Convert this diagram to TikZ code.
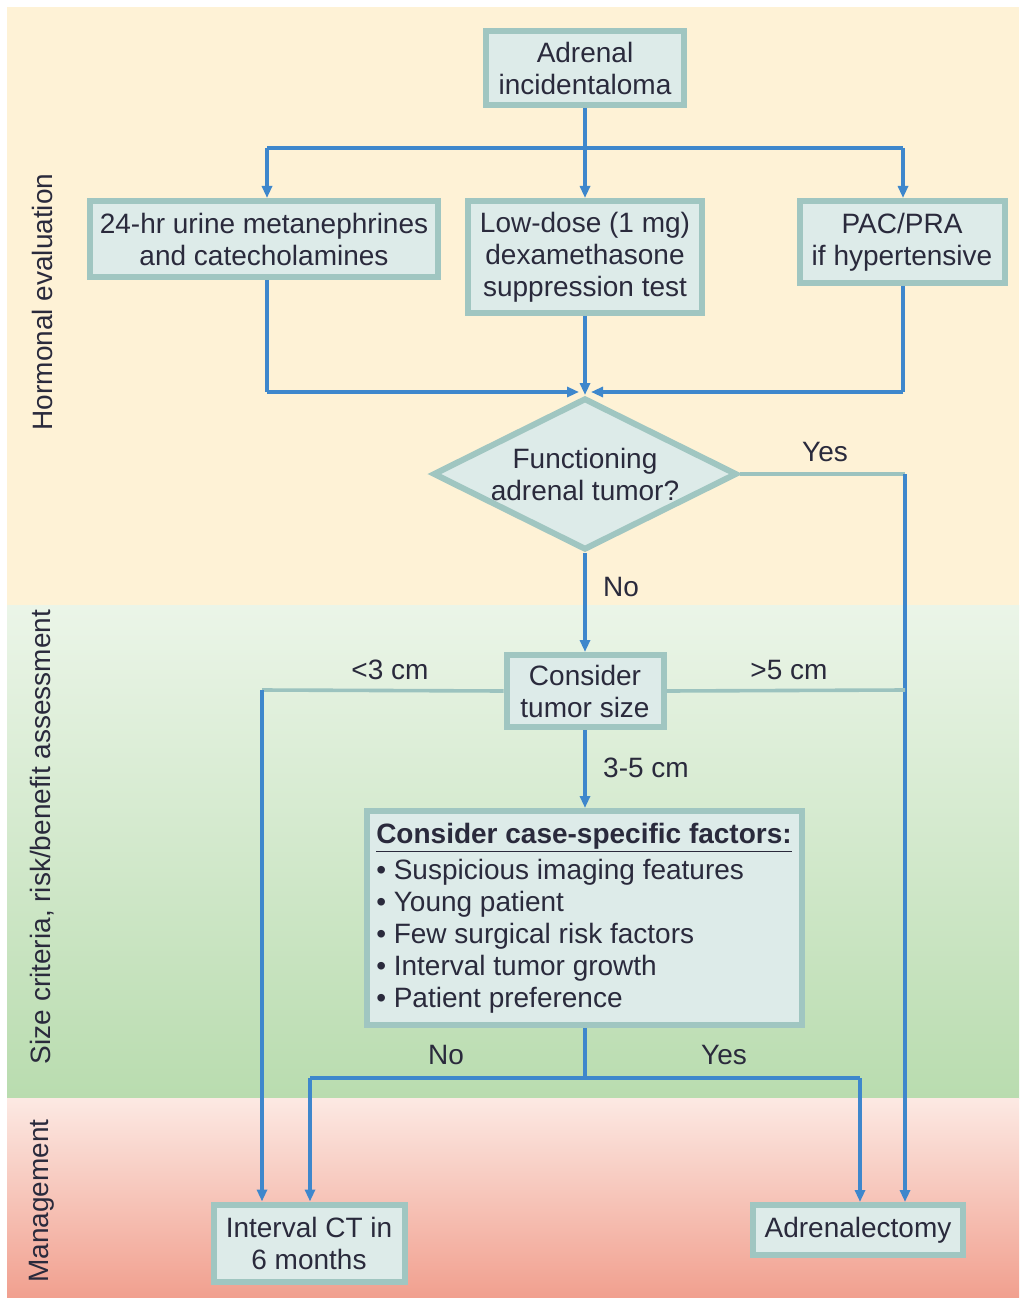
\documentclass[tikz,border=0pt]{standalone}
\usepackage{fontspec}
\setmainfont{Liberation Sans}
\usetikzlibrary{arrows.meta,shapes.geometric}

\definecolor{cream}{HTML}{FEF2D6}
\definecolor{greenT}{HTML}{EBF5E8}
\definecolor{greenB}{HTML}{B9DCAF}
\definecolor{redT}{HTML}{FCE9E3}
\definecolor{redB}{HTML}{F1A08F}
\definecolor{boxfill}{HTML}{DDEBE9}
\definecolor{boxline}{HTML}{A0C6C1}
\definecolor{flow}{HTML}{3E87CC}
\definecolor{tealline}{HTML}{9CC3BF}
\definecolor{ink}{HTML}{2A2A3C}

\tikzset{
  txt/.style={font=\fontsize{14}{16}\selectfont, text=ink},
  box/.style={txt, draw=boxline, fill=boxfill, line width=3pt, inner sep=0pt, align=center},
  decision/.style={txt, diamond, shape aspect=2, draw=boxline, fill=boxfill, line width=3pt, inner sep=0pt, align=center},
  lnk/.style={draw=flow, line width=1.6pt},
  arr/.style={lnk, -{Triangle[length=6pt,width=5pt]}},
  tl/.style={draw=tealline, line width=1.8pt},
  lab/.style={txt},
  side/.style={txt, rotate=90, font=\fontsize{14}{16}\selectfont},
}

\begin{document}
\begin{tikzpicture}[x=0.5pt,y=-0.5pt]
\useasboundingbox (0,0) rectangle (1019,1299);
\fill[white] (0,0) rectangle (1019,1299);

% background bands
\fill[cream] (7,7) rectangle (1019,605);
\shade[top color=greenT, bottom color=greenB] (7,605) rectangle (1019,1098);
\shade[top color=redT, bottom color=redB] (7,1098) rectangle (1019,1297);

% band titles
\node[side] (s1) at (42,302) {Hormonal evaluation};
\node[side] (s2) at (42,837) {Size criteria, risk/benefit assessment};
\node[side] (s3) at (42,1201) {Management};

% boxes
\node[box, minimum width=99pt, minimum height=37pt] (inc) at (585,68) {Adrenal\\incidentaloma};
\node[box, minimum width=174pt, minimum height=38pt] (urine) at (264,239) {24-hr urine metanephrines\\and catecholamines};
\node[box, minimum width=117pt, minimum height=56pt] (dex) at (585,257) {Low-dose (1 mg)\\dexamethasone\\suppression test};
\node[box, minimum width=102.5pt, minimum height=41pt] (pac) at (902,242) {PAC/PRA\\if hypertensive};
\node[decision, minimum width=152pt, minimum height=76pt] (dia) at (585,474) {Functioning\\adrenal tumor?};
\node[box, minimum width=78.5pt, minimum height=36pt] (size) at (585,691) {Consider\\tumor size};
\node[box, minimum width=217.5pt, minimum height=107pt, align=left] (fac) at (584,918)
  {\underline{\textbf{Consider case-specific factors:}}\\[2pt]
   \textbullet\ Suspicious imaging features\\
   \textbullet\ Young patient\\
   \textbullet\ Few surgical risk factors\\
   \textbullet\ Interval tumor growth\\
   \textbullet\ Patient preference};
\node[box, minimum width=95.5pt, minimum height=38.5pt] (ct) at (309,1243) {Interval CT in\\6 months};
\node[box, minimum width=105pt, minimum height=25pt] (adr) at (858,1230) {Adrenalectomy};

% junction points
\coordinate (split) at (585,148);
\coordinate (sl) at (267,148);
\coordinate (sr) at (903,148);
\coordinate (jl) at (267,392);
\coordinate (jr) at (903,392);
\coordinate (jn) at (585,392);
\coordinate (yc) at (905,474);
\coordinate (gc) at (905,690);
\coordinate (lc) at (262,690);
\coordinate (fb) at (585,1078);
\coordinate (fl) at (310,1078);
\coordinate (fr) at (860,1078);

% hormonal work-up
\draw[lnk] (inc.south) -- (split);
\draw[lnk] (sl) -- (sr);
\draw[arr] (sl) -- (urine.north -| sl);
\draw[arr] (split) -- (dex.north);
\draw[arr] (sr) -- (pac.north -| sr);
\draw[lnk] (urine.south -| jl) -- (jl);
\draw[arr] (jl) -- ([xshift=-3]jn);
\draw[lnk] (pac.south -| jr) -- (jr);
\draw[arr] (jr) -- ([xshift=3]jn);
\draw[arr] (dex.south) -- (dia.north);

% decision and size branches
\draw[tl] (dia.east) -- (yc);
\draw[arr] (yc) -- (adr.north -| yc);
\draw[arr] (dia.south) -- (size.north);
\draw[tl] (size.east) -- (gc);
\draw[tl] (size.west) -- (lc);
\draw[arr] (lc) -- (ct.north -| lc);
\draw[arr] (size.south) -- (size.south |- fac.north);
\draw[lnk] (fac.south -| fb) -- (fb);
\draw[lnk] (fl) -- (fr);
\draw[arr] (fl) -- (ct.north -| fl);
\draw[arr] (fr) -- (adr.north -| fr);

% branch labels
\node[lab] (lyes) at (825,452) {Yes};
\node[lab] (lno) at (621,587) {No};
\node[lab] (lgt) at (789,670) {>5 cm};
\node[lab] (llt) at (390,670) {<3 cm};
\node[lab] (lmid) at (646,768) {3-5 cm};
\node[lab] (lno2) at (446,1055) {No};
\node[lab] (lyes2) at (724,1055) {Yes};
\end{tikzpicture}
\end{document}
